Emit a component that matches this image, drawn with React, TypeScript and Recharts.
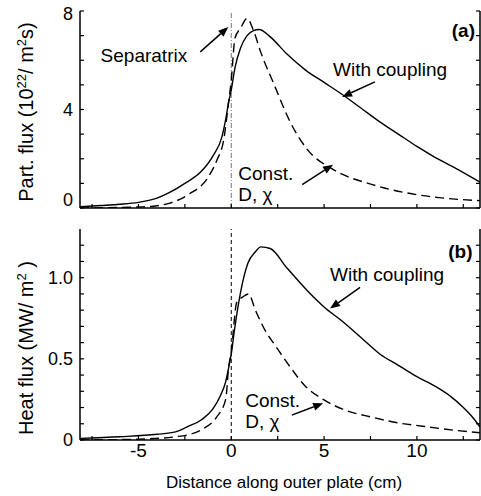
import React from "react";
import { LineChart, Line, XAxis, YAxis, ReferenceLine, ReferenceDot } from "recharts";

const FONT = '"Liberation Sans", Arial, Helvetica, sans-serif';

// (a) particle flux, 10^22 / m^2 s
const partCoupledX = [-8.15, -7, -6, -5, -4, -3.4, -2.5, -1.6, -1, -0.5, -0.3, -0.15, 0, 0.2, 0.5, 0.85, 1.2, 1.5, 2.1, 3, 4, 5, 6, 7, 8, 9, 10, 11, 12, 13.4];
const partCoupledY = [0.05, 0.1, 0.15, 0.23, 0.4, 0.6, 1.0, 1.5, 2.1, 2.9, 3.6, 4.27, 4.8, 5.7, 6.5, 7.0, 7.2, 7.25, 6.95, 6.25, 5.6, 5.1, 4.6, 4.05, 3.5, 3.0, 2.5, 2.05, 1.65, 1.05];
const partConstX = [-8.15, -6, -5, -4, -3.3, -2.3, -1.2, -0.77, -0.4, -0.15, 0, 0.2, 0.5, 0.85, 1.2, 1.6, 2.26, 3.17, 4.07, 5.5, 7.6, 9.4, 11.2, 13.4];
const partConstY = [0, 0.02, 0.04, 0.09, 0.2, 0.55, 1.3, 1.95, 2.8, 4.27, 5.2, 6.9, 7.3, 7.7, 7.2, 6.3, 5.1, 3.5, 2.4, 1.56, 0.95, 0.62, 0.42, 0.3];

// (b) heat flux, MW / m^2
const heatCoupledX = [-8.15, -6, -4, -3, -2.4, -1.6, -1, -0.6, -0.3, -0.15, 0, 0.15, 0.5, 0.9, 1.3, 1.6, 2.1, 3, 4.1, 5, 6, 7, 8, 9, 10, 11, 11.8, 12.5, 13, 13.4];
const heatCoupledY = [0.01, 0.02, 0.035, 0.05, 0.08, 0.125, 0.19, 0.27, 0.36, 0.44, 0.53, 0.66, 0.91, 1.09, 1.16, 1.19, 1.18, 1.06, 0.92, 0.82, 0.73, 0.63, 0.53, 0.46, 0.39, 0.33, 0.27, 0.2, 0.14, 0.08];
const heatConstX = [-8.15, -5, -3, -2.4, -1.5, -0.8, -0.3, -0.15, 0, 0.3, 0.6, 0.93, 1.3, 1.9, 2.26, 3.17, 4, 4.95, 6, 7.6, 9, 10.3, 12, 13.4];
const heatConstY = [0, 0.005, 0.02, 0.03, 0.07, 0.14, 0.25, 0.44, 0.55, 0.85, 0.88, 0.9, 0.8, 0.66, 0.6, 0.45, 0.33, 0.25, 0.19, 0.14, 0.105, 0.085, 0.06, 0.045];

const xTicks = [-7.5, -5, -2.5, 0, 2.5, 5, 7.5, 10, 12.5];
const xLabels = [-5, 0, 5, 10];
const partTicks = [0, 1, 2, 3, 4, 5, 6, 7, 8];
const partLabels = [0, 4, 8];
const heatTicks = [0, 0.1, 0.2, 0.3, 0.4, 0.5, 0.6, 0.7, 0.8, 0.9, 1.0, 1.1, 1.2];
const heatLabels = [0, 0.5, 1];

const X_DOMAIN = [-8.15, 13.4];

const zip = (xs: number[], ys: number[]) => xs.map((x, i) => ({ x, y: ys[i] }));

const fmtY = (v: number) => (v === 0 ? "0" : Number.isInteger(v) && v < 2 ? v.toFixed(1) : String(v));

function BottomTick(p: any) {
  const { x, y, payload, labels } = p;
  const v = payload.value;
  return (
    <g>
      <line x1={x} x2={x} y1={y} y2={y - 4} stroke="#000" strokeWidth={1.2} />
      {labels && labels.includes(v) && (
        <text x={x} y={y + 17} textAnchor="middle" fontSize={19} fontFamily={FONT} fill="#000">
          {v}
        </text>
      )}
    </g>
  );
}

function TopTick(p: any) {
  return <line x1={p.x} x2={p.x} y1={p.y} y2={p.y + 4} stroke="#000" strokeWidth={1.2} />;
}

function LeftTick(p: any) {
  const { x, y, payload, labels, shift } = p;
  const v = payload.value;
  const dy = (shift && shift[v]) || 0;
  return (
    <g>
      <line x1={x} x2={x + 4} y1={y} y2={y} stroke="#000" strokeWidth={1.2} />
      {labels.includes(v) && (
        <text x={x - 7} y={y + dy} dy="0.36em" textAnchor="end" fontSize={18} fontFamily={FONT} fill="#000">
          {fmtY(v)}
        </text>
      )}
    </g>
  );
}

function RightTick(p: any) {
  return <line x1={p.x} x2={p.x - 4} y1={p.y} y2={p.y} stroke="#000" strokeWidth={1.2} />;
}

function Arrow(p: any) {
  const { x1, y1, x2, y2 } = p;
  const a = Math.atan2(y2 - y1, x2 - x1);
  const len = 10;
  const w = 4;
  const bx = x2 - len * Math.cos(a);
  const by = y2 - len * Math.sin(a);
  const nx = -Math.sin(a) * w;
  const ny = Math.cos(a) * w;
  return (
    <g>
      <line x1={x1} y1={y1} x2={bx} y2={by} stroke="#000" strokeWidth={1.5} />
      <polygon points={`${x2},${y2} ${bx + nx},${by + ny} ${bx - nx},${by - ny}`} fill="#000" />
    </g>
  );
}

function note(text: string, anchor: "start" | "end" = "start", bold = false) {
  return ({ viewBox }: any) => (
    <text
      x={viewBox.x}
      y={viewBox.y}
      textAnchor={anchor}
      fontSize={19}
      fontWeight={bold ? "bold" : "normal"}
      fontFamily={FONT}
      fill="#000"
    >
      {text}
    </text>
  );
}

const axisLine = { stroke: "#000", strokeWidth: 1.5 };

function Frame({ yTicks, yLabels, yDomain, shift, xLabel }: any) {
  return [
    <XAxis
      key="xb"
      xAxisId="b"
      type="number"
      dataKey="x"
      domain={X_DOMAIN}
      ticks={xTicks}
      interval={0}
      allowDataOverflow
      axisLine={axisLine}
      tickLine={false}
      tickSize={0}
      tickMargin={0}
      height={xLabel ? 56 : 12}
      tick={(p: any) => <BottomTick {...p} labels={xLabel ? xLabels : null} />}
      label={
        xLabel
          ? {
              content: () => (
                <text x={284} y={268} textAnchor="middle" fontSize={17} fontFamily={FONT} fill="#000">
                  Distance along outer plate (cm)
                </text>
              ),
            }
          : undefined
      }
    />,
    <XAxis
      key="xt"
      xAxisId="t"
      orientation="top"
      type="number"
      dataKey="x"
      domain={X_DOMAIN}
      ticks={xTicks}
      interval={0}
      allowDataOverflow
      axisLine={axisLine}
      tickLine={false}
      tickSize={0}
      tickMargin={0}
      height={0}
      tick={TopTick}
    />,
    <YAxis
      key="yl"
      yAxisId="l"
      type="number"
      domain={yDomain}
      ticks={yTicks}
      interval={0}
      allowDataOverflow
      axisLine={axisLine}
      tickLine={false}
      tickSize={0}
      tickMargin={0}
      width={80}
      tick={(p: any) => <LeftTick {...p} labels={yLabels} shift={shift} />}
    />,
    <YAxis
      key="yr"
      yAxisId="r"
      orientation="right"
      type="number"
      domain={yDomain}
      ticks={yTicks}
      interval={0}
      allowDataOverflow
      axisLine={axisLine}
      tickLine={false}
      tickSize={0}
      tickMargin={0}
      width={1}
      tick={RightTick}
    />,
  ];
}

function YTitle({ y, children }: any) {
  return (
    <text
      transform={`translate(33, ${y}) rotate(-90)`}
      textAnchor="middle"
      fontSize={20}
      fontFamily={FONT}
      fill="#000"
    >
      {children}
    </text>
  );
}

function PartPanel() {
  return (
    <LineChart width={481} height={220} margin={{ top: 11, right: 0, bottom: 0, left: 0 }}>
      {Frame({ yTicks: partTicks, yLabels: partLabels, yDomain: [0, 8], shift: { 0: -8, 8: 3 }, xLabel: false })}
      <ReferenceLine xAxisId="b" yAxisId="l" x={0} stroke="#777" strokeWidth={1} strokeDasharray="5 2 1 2" />
      <Line
        xAxisId="b"
        yAxisId="l"
        data={zip(partCoupledX, partCoupledY)}
        dataKey="y"
        type="monotone"
        stroke="#000"
        strokeWidth={1.4}
        dot={false}
        isAnimationActive={false}
      />
      <Line
        xAxisId="b"
        yAxisId="l"
        data={zip(partConstX, partConstY)}
        dataKey="y"
        type="monotone"
        stroke="#000"
        strokeWidth={1.4}
        strokeDasharray="9 5"
        dot={false}
        isAnimationActive={false}
      />
      <ReferenceLine xAxisId="b" yAxisId="l" segment={[{ x: -1.67, y: 6.34 }, { x: -0.16, y: 7.35 }]} shape={Arrow} />
      <ReferenceLine xAxisId="b" yAxisId="l" segment={[{ x: 7.74, y: 5.12 }, { x: 5.97, y: 4.51 }]} shape={Arrow} />
      <ReferenceLine xAxisId="b" yAxisId="l" segment={[{ x: 3.82, y: 0.95 }, { x: 5.48, y: 1.76 }]} shape={Arrow} />
      <ReferenceDot xAxisId="b" yAxisId="l" x={-7.04} y={5.93} r={0} label={{ content: note("Separatrix") }} />
      <ReferenceDot xAxisId="b" yAxisId="l" x={13.13} y={6.94} r={0} label={{ content: note("(a)", "end", true) }} />
      <ReferenceDot xAxisId="b" yAxisId="l" x={5.48} y={5.36} r={0} label={{ content: note("With coupling") }} />
      <ReferenceDot xAxisId="b" yAxisId="l" x={0.38} y={1.15} r={0} label={{ content: note("Const.") }} />
      <ReferenceDot xAxisId="b" yAxisId="l" x={0.38} y={0.3} r={0} label={{ content: note("D, χ") }} />
      <YTitle y={112}>
        Part. flux (10
        <tspan dy={-7} fontSize={13}>22</tspan>
        <tspan dy={7}>/ m</tspan>
        <tspan dy={-7} fontSize={13}>2</tspan>
        <tspan dy={7}>s)</tspan>
      </YTitle>
    </LineChart>
  );
}

function HeatPanel() {
  return (
    <LineChart width={481} height={276} margin={{ top: 9, right: 0, bottom: 0, left: 0 }}>
      {Frame({ yTicks: heatTicks, yLabels: heatLabels, yDomain: [0, 1.3], shift: {}, xLabel: true })}
      <ReferenceLine xAxisId="b" yAxisId="l" x={0} stroke="#000" strokeWidth={1} strokeDasharray="4 3" />
      <Line
        xAxisId="b"
        yAxisId="l"
        data={zip(heatCoupledX, heatCoupledY)}
        dataKey="y"
        type="monotone"
        stroke="#000"
        strokeWidth={1.4}
        dot={false}
        isAnimationActive={false}
      />
      <Line
        xAxisId="b"
        yAxisId="l"
        data={zip(heatConstX, heatConstY)}
        dataKey="y"
        type="monotone"
        stroke="#000"
        strokeWidth={1.4}
        strokeDasharray="9 5"
        dot={false}
        isAnimationActive={false}
      />
      <ReferenceLine xAxisId="b" yAxisId="l" segment={[{ x: 6.94, y: 0.94 }, { x: 5.32, y: 0.81 }]} shape={Arrow} />
      <ReferenceLine xAxisId="b" yAxisId="l" segment={[{ x: 3.26, y: 0.153 }, { x: 4.95, y: 0.227 }]} shape={Arrow} />
      <ReferenceDot xAxisId="b" yAxisId="l" x={13.0} y={1.123} r={0} label={{ content: note("(b)", "end", true) }} />
      <ReferenceDot xAxisId="b" yAxisId="l" x={5.32} y={0.98} r={0} label={{ content: note("With coupling") }} />
      <ReferenceDot xAxisId="b" yAxisId="l" x={0.75} y={0.204} r={0} label={{ content: note("Const.") }} />
      <ReferenceDot xAxisId="b" yAxisId="l" x={0.75} y={0.072} r={0} label={{ content: note("D, χ") }} />
      <YTitle y={128}>
        Heat flux (MW/ m
        <tspan dy={-7} fontSize={13}>2</tspan>
        <tspan dy={7}> )</tspan>
      </YTitle>
    </LineChart>
  );
}

export default function App() {
  return (
    <div style={{ position: "absolute", left: 0, top: 0, width: 481, height: 496, background: "#fff" }}>
      <div style={{ position: "absolute", left: 0, top: 0 }}>
        <PartPanel />
      </div>
      <div style={{ position: "absolute", left: 0, top: 220 }}>
        <HeatPanel />
      </div>
    </div>
  );
}
